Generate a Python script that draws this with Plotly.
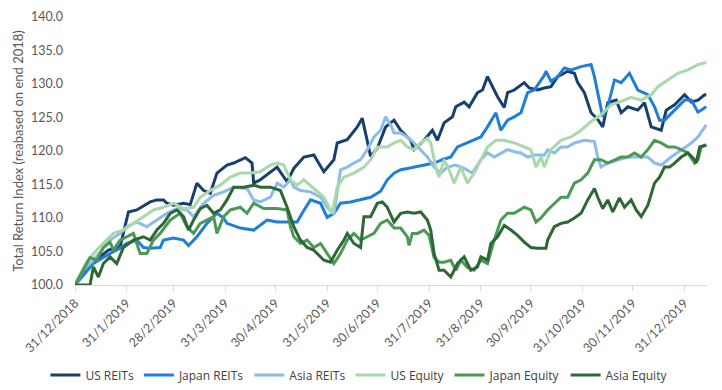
import pandas as pd
import plotly.graph_objects as go

START = pd.Timestamp("2018-12-31")  # index rebased to 100 at end 2018

# ---- data: observation day (days after 31/12/2018) and index value, per series ----
us_reits_days = [0, 7, 14, 20, 27, 31, 32, 37, 45, 49, 53, 55, 59, 65, 69, 73, 77, 81, 85, 91,
                 95, 102, 106, 107, 111, 121, 127, 131, 137, 143, 149, 155, 157, 163, 169, 172, 177,
                 181, 186, 191, 195, 201, 203, 209, 214, 217, 221, 226, 228, 233, 236, 241, 244, 247,
                 250, 253, 257, 259, 263, 269, 272, 277, 281, 285, 289, 295, 299, 301, 305, 309, 313,
                 316, 319, 324, 327, 331, 337, 341, 345, 351, 354, 359, 365, 369, 373, 377, 378]
us_reits = [100, 102.5, 104, 105.2, 105.7, 110.2, 110.9, 111.2, 112.4, 112.7, 112.7, 112.2, 111.9,
            112.2, 112, 115.2, 114.1, 113.7, 116.7, 117.9, 118.2, 119, 118.2, 115.2, 115.7, 117.6,
            115.4, 117.4, 119.1, 119.4, 116.9, 118.7, 121.2, 121.7, 123.6, 124.9, 119.2, 120.4, 123.6,
            124.6, 123.1, 121.6, 120.2, 121.6, 123.1, 121.6, 124.2, 125.1, 126.6, 127.3, 126.6, 128.7,
            129.1, 131.1, 129.6, 128.1, 126.5, 128.7, 129.1, 130.2, 129.4, 129.1, 129.4, 129.6, 131.1,
            131.9, 131.6, 130.2, 128.7, 125.7, 124.7, 123.6, 127.2, 127.6, 125.7, 126.6, 126.1, 127.2,
            123.6, 123.1, 126.1, 126.9, 128.4, 127.3, 127.6, 128.4, 128.4]

japan_reits_days = [0, 11, 21, 27, 31, 37, 41, 45, 51, 53, 59, 65, 68, 73, 79, 85, 89, 91, 99, 107,
                    115, 121, 127, 133, 136, 141, 147, 151, 155, 159, 165, 171, 177, 183, 187, 191,
                    195, 199, 203, 209, 215, 220, 225, 229, 235, 239, 243, 247, 252, 255, 259, 263,
                    267, 271, 275, 281, 282, 285, 289, 293, 297, 303, 309, 311, 314, 316, 319, 323,
                    327, 332, 337, 343, 347, 350, 353, 359, 365, 369, 373, 378]
japan_reits = [100, 103.2, 104.7, 105.5, 106.2, 106.7, 105.6, 105.5, 105.6, 106.7, 107, 106.7, 105.9,
               107.2, 109.2, 110.7, 110, 109.2, 108.5, 108.2, 109.7, 109.4, 109.4, 109.4, 110.7, 112.7,
               112.2, 110.1, 110.7, 112.2, 112.4, 112.7, 113.1, 114, 115.7, 116.7, 117.2, 117.4, 117.6,
               117.9, 118.2, 118.7, 119.1, 120.6, 121.2, 121.6, 122.1, 123.6, 125.7, 123.1, 124.6,
               125.1, 125.7, 128.7, 129.1, 131.3, 131.9, 130.4, 131.1, 132.4, 132.1, 132.6, 132.9,
               131.1, 127.6, 125.1, 126.6, 130.6, 130.2, 131.6, 129.1, 128.4, 126.6, 124.6, 124.6,
               126.1, 127.6, 127.6, 125.8, 126.6]

asia_reits_days = [0, 5, 11, 21, 27, 31, 37, 43, 49, 55, 61, 67, 71, 77, 83, 89, 95, 103, 107, 111,
                   117, 121, 125, 129, 131, 135, 141, 147, 151, 155, 159, 163, 167, 171, 175, 179, 183,
                   186, 189, 191, 195, 199, 203, 207, 211, 215, 219, 223, 228, 233, 238, 243, 247, 251,
                   255, 259, 263, 267, 271, 275, 281, 283, 287, 291, 295, 299, 305, 311, 313, 315, 319,
                   325, 331, 337, 343, 347, 351, 357, 363, 369, 373, 378]
asia_reits = [100, 102.2, 103.7, 106.7, 107.7, 108.7, 109.4, 108.7, 109.7, 110.7, 111.4, 111.2, 110.2,
              112.2, 113.4, 113.9, 114.6, 114.4, 112.7, 112.4, 113.1, 115.2, 114.6, 115.7, 114.6, 114.1,
              113.9, 113.1, 111.6, 110.6, 117.2, 117.6, 118.2, 118.7, 120.2, 122.1, 123.1, 125.1, 123.9,
              122.7, 122.7, 122.1, 121.2, 120.2, 119.1, 117.6, 116.7, 117.6, 117.9, 117.4, 116.7, 118.7,
              119.7, 119.1, 119.7, 120.2, 119.9, 119.7, 119.1, 119.4, 119.4, 120.2, 119.7, 120.6, 120.6,
              121.2, 121.6, 121.4, 119.1, 117.6, 118.2, 118.7, 119.1, 119.1, 119.1, 118.2, 117.9, 119.1,
              120.2, 121.2, 122.1, 123.9]

us_equity_days = [0, 7, 14, 19, 23, 29, 35, 41, 47, 53, 59, 65, 71, 75, 81, 87, 93, 99, 105, 111,
                  117, 121, 125, 129, 133, 137, 143, 149, 154, 157, 161, 167, 173, 177, 181, 187, 191,
                  195, 199, 203, 207, 211, 213, 216, 218, 221, 224, 227, 231, 235, 239, 243, 247, 252,
                  257, 263, 269, 273, 276, 279, 281, 285, 291, 297, 303, 309, 315, 321, 327, 333, 339,
                  345, 349, 355, 361, 367, 373, 378]
us_equity = [100, 103.5, 105.5, 106.7, 107.7, 108.2, 109.2, 110.2, 111.2, 111.6, 112.2, 111.4, 111.6,
             113.1, 114.1, 114.9, 116.1, 116.7, 116.7, 116.9, 117.9, 118.2, 117.9, 115.7, 114.9, 115.7,
             114.4, 113.1, 110.7, 114.6, 116.1, 116.7, 117.6, 118.7, 120.6, 120.6, 121.2, 121.6, 120.6,
             120.2, 121.2, 121.9, 121.2, 117.6, 116.1, 118.7, 117.2, 115.2, 117.6, 115.2, 116.7, 118.7,
             120.6, 121.6, 121.6, 121.2, 120.6, 120.2, 117.6, 119.1, 117.6, 120.2, 121.6, 122.1, 123.1,
             124.4, 125.4, 126.9, 127.4, 128, 127.6, 128.4, 129.6, 130.6, 131.6, 132.1, 132.9, 133.2]

japan_equity_days = [0, 9, 13, 17, 21, 23, 27, 31, 35, 39, 43, 47, 51, 57, 63, 67, 71, 75, 79, 83,
                     85, 89, 93, 99, 103, 107, 113, 121, 127, 129, 131, 135, 139, 143, 147, 151, 155,
                     159, 163, 167, 171, 175, 179, 183, 187, 191, 195, 199, 200, 202, 205, 209, 212,
                     215, 218, 221, 225, 228, 231, 235, 239, 243, 247, 251, 255, 259, 263, 269, 273,
                     276, 279, 283, 287, 291, 295, 299, 303, 307, 311, 315, 319, 323, 327, 331, 335,
                     339, 343, 347, 351, 355, 359, 363, 367, 371, 373, 375, 378]
japan_equity = [100, 104.1, 103.7, 105.6, 106.4, 105.2, 106.7, 107.2, 107.7, 104.7, 104.7, 106.7,
                107.7, 109.7, 110.7, 108.7, 107.7, 109.2, 109.7, 110.2, 107.7, 110.2, 111.2, 111.6,
                110.7, 112.2, 111.4, 111.4, 111.2, 108.7, 107.2, 106.2, 106.7, 105.6, 106.2, 104.7,
                103.2, 104.7, 106.7, 107.7, 106.7, 107.2, 107.7, 109.2, 109.7, 108.5, 108.5, 107.2,
                105.9, 107.7, 107.7, 108.2, 107.4, 104.1, 103.4, 103.4, 103.7, 102.2, 103.7, 102.6,
                102.2, 103.7, 103.2, 106.7, 109.7, 110.7, 110.7, 111.6, 111.2, 109.4, 110, 111.2, 112.2,
                113.1, 113.1, 115.2, 115.7, 116.7, 118.7, 118.7, 118.2, 118.7, 119.1, 119.1, 119.7,
                119.1, 120.2, 121.6, 121.2, 120.6, 120.6, 120.2, 119.7, 118.2, 118.7, 120.6, 120.9]

asia_equity_days = [0, 9, 11, 14, 17, 21, 25, 29, 35, 41, 45, 49, 53, 57, 61, 65, 68, 71, 75, 79,
                    83, 87, 91, 95, 101, 107, 111, 117, 123, 127, 131, 135, 139, 143, 149, 153, 157,
                    161, 163, 167, 171, 173, 177, 181, 184, 187, 191, 195, 199, 203, 207, 211, 213,
                    215, 218, 221, 225, 229, 233, 237, 241, 243, 247, 249, 253, 257, 261, 265, 269,
                    273, 277, 282, 283, 287, 291, 295, 299, 303, 307, 311, 313, 316, 319, 322, 326,
                    329, 333, 336, 339, 343, 347, 350, 353, 356, 359, 363, 367, 371, 372, 374, 378]
asia_equity = [100, 100, 102.7, 101.2, 103.2, 104.2, 103.2, 105.6, 106.7, 107.2, 106.7, 108.2, 109.2,
               110.7, 111.2, 110.2, 108.2, 109.7, 111.4, 111.9, 110.7, 111.2, 112.7, 114.6, 114.6,
               114.9, 114.6, 114.6, 114.1, 111.6, 108.7, 106.7, 105.6, 105.2, 103.7, 103.4, 105.2,
               106.7, 107.7, 106.2, 105.6, 110.2, 110.2, 112.2, 112.4, 111.6, 109.4, 110.7, 110.9,
               110.7, 110.9, 109.7, 108.2, 104.7, 102.2, 102.2, 101.2, 103.2, 104.2, 102.2, 102.7,
               104.2, 103.7, 106.2, 107.2, 108.9, 108.2, 107.4, 106.4, 105.6, 105.5, 105.5, 106.7,
               108.7, 109.2, 109.4, 110, 110.7, 112.7, 114.4, 113.1, 111.4, 112.7, 110.9, 113, 111.6,
               112.7, 111.2, 110.2, 111.9, 115.2, 116.1, 117.6, 117.6, 118.2, 119.1, 119.7, 118.7,
               118.2, 120.6, 120.9]

series_names = ["US REITs", "Japan REITs", "Asia REITs", "US Equity", "Japan Equity", "Asia Equity"]
series_days = [us_reits_days, japan_reits_days, asia_reits_days, us_equity_days,
               japan_equity_days, asia_equity_days]
series_values = [us_reits, japan_reits, asia_reits, us_equity, japan_equity, asia_equity]
colors = ["#17406D", "#1F7FD8", "#8CBCEA", "#A9D9A8", "#4A9A55", "#2E6634"]

tick_dates = ["2018-12-31", "2019-01-31", "2019-02-28", "2019-03-31", "2019-04-30", "2019-05-31",
              "2019-06-30", "2019-07-31", "2019-08-31", "2019-09-30", "2019-10-31", "2019-11-30",
              "2019-12-31"]
tick_labels = ["31/12/2018", "31/1/2019", "28/2/2019", "31/3/2019", "30/4/2019", "31/5/2019",
               "30/6/2019", "31/7/2019", "31/8/2019", "30/9/2019", "31/10/2019", "30/11/2019",
               "31/12/2019"]

FONT = "Lato, 'Open Sans', sans-serif"
GREY = "#595959"

fig = go.Figure()
for name, days, vals, col in zip(series_names, series_days, series_values, colors):
    x = START + pd.to_timedelta(days, unit="D")
    fig.add_trace(go.Scatter(x=x, y=vals, name=name, mode="lines",
                             line=dict(color=col, width=3)))

fig.update_layout(
    width=722, height=390,
    margin=dict(l=75, r=15, t=17, b=105, autoexpand=False),
    paper_bgcolor="white", plot_bgcolor="white",
    font=dict(family=FONT, size=13, color=GREY),
    showlegend=True,
    legend=dict(orientation="h",
                x=0.45, xanchor="center", y=-0.336, yanchor="middle",
                font=dict(family="'Open Sans', sans-serif", size=12, color="#404040"),
                itemwidth=30, tracegroupgap=0, bgcolor="rgba(0,0,0,0)"),
)
fig.update_xaxes(
    type="date", range=["2018-12-31", "2020-01-13 10:00"],
    tickvals=tick_dates, ticktext=tick_labels, tickangle=-45,
    showline=True, linecolor="#D9D9D9", linewidth=1,
    ticks="outside", ticklen=5, tickcolor="#D9D9D9",
    showgrid=False, zeroline=False,
    tickfont=dict(family=FONT, size=12.5, color=GREY),
)
fig.update_yaxes(
    range=[100, 140], dtick=5, tick0=100, tickformat=".1f",
    showline=False, showgrid=False, zeroline=False, ticks="",
    ticklabelstandoff=11,
    tickfont=dict(family=FONT, size=12.5, color=GREY),
    title=dict(text="Total Return Index (reabased on end 2018)",
               font=dict(family=FONT, size=13, color=GREY), standoff=4),
)

fig.write_html("out.html", config={"displayModeBar": False},
               post_script="document.body.style.margin='0';document.body.style.overflow='hidden';")
